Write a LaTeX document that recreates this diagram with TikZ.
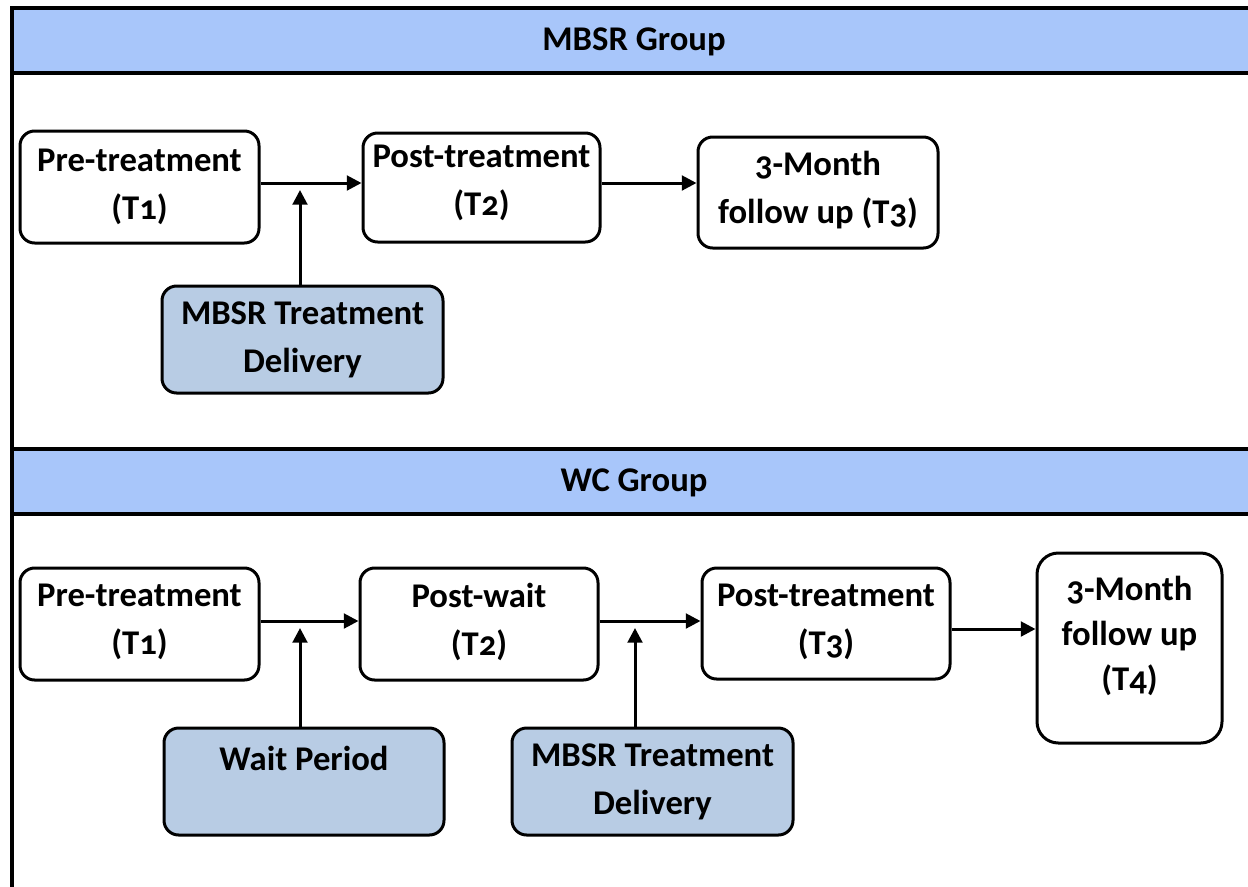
\documentclass[tikz,border=0pt]{standalone}
\usepackage{fontspec}
\setmainfont{Carlito}[Numbers=OldStyle]
\usetikzlibrary{arrows.meta,calc}
\definecolor{bandblue}{RGB}{168,198,250}
\definecolor{boxblue}{RGB}{184,204,228}
\begin{document}
\begin{tikzpicture}[x=0.75pt,y=-0.75pt,
  box/.style={draw=black, line width=2.25pt, rounded corners=11pt, fill=white, inner sep=0pt},
  shaded/.style={box, fill=boxblue},
  txt/.style={font=\bfseries\fontsize{26}{36}\selectfont, align=center, inner sep=0pt},
  arr/.style={line width=2.25pt, -{Triangle[length=11pt,width=11pt]}},
  frame/.style={line width=2.6pt}]
\useasboundingbox (0,0) rectangle (1248,886);
\clip (0,0) rectangle (1248,886);

% frame and bands
\draw[frame, fill=bandblue] (12,8) rectangle (1262,73);
\draw[frame, fill=bandblue] (12,449) rectangle (1262,514);
\draw[frame] (12,6.7) -- (12,900);
\node[txt] (g1) at (634,42) {MBSR Group};
\node[txt] (g2) at (634,483) {WC Group};

% MBSR group boxes
\node[box, minimum width=179.25pt, minimum height=84pt] (pre1) at (139.5,187) {};
\node[box, minimum width=177.75pt, minimum height=81.75pt] (post1) at (481.5,187.5) {};
\node[box, minimum width=180pt, minimum height=83.25pt] (fu1) at (818,192.5) {};
\node[shaded, minimum width=210.75pt, minimum height=80.25pt] (mbsr1) at (302.5,339.5) {};

\node[txt] (pre1t) at (139.5,187) {Pre-treatment\\(T1)};
\node[txt] (post1t) at (481.5,183) {Post-treatment\\(T2)};
\node[txt] (fu1t) at (818,190) {3-Month\\follow up (T3)};
\node[txt] (mbsr1t) at (302.5,340) {MBSR Treatment\\Delivery};

% WC group boxes
\node[box, minimum width=179.25pt, minimum height=84pt] (pre2) at (139.5,624) {};
\node[box, minimum width=178.5pt, minimum height=84pt] (wait2) at (479,624) {};
\node[box, minimum width=186pt, minimum height=83.25pt] (post2) at (826,623.5) {};
\node[box, rounded corners=16pt, minimum width=138.75pt, minimum height=142.5pt] (fu2) at (1129.5,648) {};
\node[shaded, minimum width=210pt, minimum height=80.25pt] (waitp) at (304,781.5) {};
\node[shaded, minimum width=210.75pt, minimum height=80.25pt] (mbsr2) at (652.5,781.5) {};

\node[txt] (pre2t) at (139.5,622) {Pre-treatment\\(T1)};
\node[txt] (wait2t) at (479,622) {Post-wait\\(T2)};
\node[txt] (post2t) at (826,622) {Post-treatment\\(T3)};
\node[txt, font=\bfseries\fontsize{26}{34}\selectfont] (fu2t) at (1129.5,636) {3-Month\\follow up\\(T4)};
\node[txt] (waitpt) at (304,758) {Wait Period};
\node[txt] (mbsr2t) at (652.5,782) {MBSR Treatment\\Delivery};

% connectors MBSR group
\coordinate (m1) at (300,183);
\coordinate (m1tip) at (300,190);
\draw[arr] (pre1.east |- m1) -- (post1.west |- m1);
\draw[arr] (mbsr1.north -| m1) -- (m1tip);
\draw[arr] (post1.east |- m1) -- (fu1.west |- m1);

% connectors WC group
\coordinate (w1) at (300,621);
\coordinate (w1tip) at (300,628);
\coordinate (w2) at (635,621);
\coordinate (w2tip) at (635,628);
\coordinate (w3) at (0,629);
\draw[arr] (pre2.east |- w1) -- (wait2.west |- w1);
\draw[arr] (waitp.north -| w1) -- (w1tip);
\draw[arr] (wait2.east |- w2) -- (post2.west |- w2);
\draw[arr] (mbsr2.north -| w2) -- (w2tip);
\draw[arr] (post2.east |- w3) -- (fu2.west |- w3);
\end{tikzpicture}
\end{document}
